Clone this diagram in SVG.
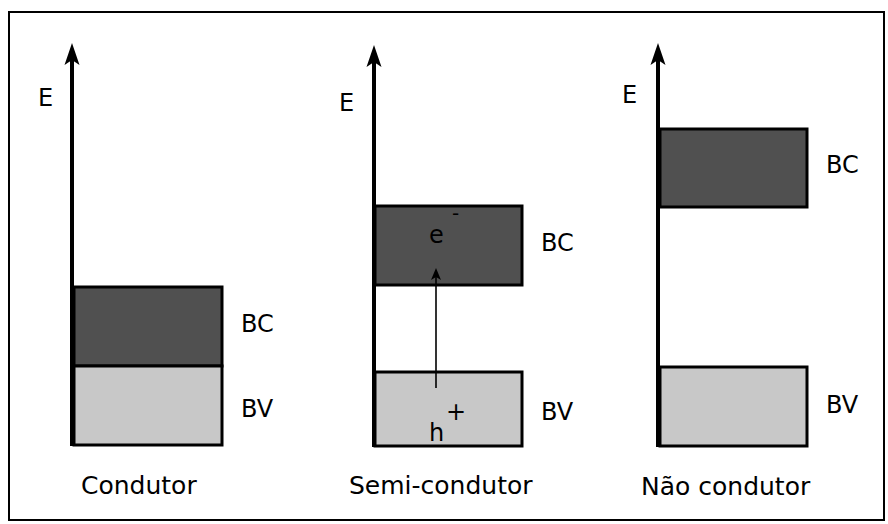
<svg xmlns="http://www.w3.org/2000/svg" width="888" height="524" viewBox="0 0 888 524">
<defs>
<style>
.axis{stroke:#000;stroke-width:4;fill:none}
.bc{fill:#505050;stroke:#000;stroke-width:3}
.bv{fill:#c8c8c8;stroke:#000;stroke-width:3}
.lbl{font-family:"DejaVu Sans",Verdana,sans-serif;font-size:24px;fill:#000}
.cap{font-family:"DejaVu Sans",Verdana,sans-serif;font-size:25px;fill:#000}
</style>
<marker id="big" markerUnits="userSpaceOnUse" orient="auto" markerWidth="30" markerHeight="20" viewBox="-12 -10 26 20" refX="0" refY="0" overflow="visible">
<path d="M12,0 L-10,-7.5 L-5,0 L-10,7.5 Z" fill="#000"/>
</marker>
<marker id="small" markerUnits="userSpaceOnUse" orient="auto" markerWidth="16" markerHeight="12" viewBox="-8 -6 14 12" refX="0" refY="0" overflow="visible">
<path d="M4,0 L-8,-5 L-5,0 L-8,5 Z" fill="#000"/>
</marker>
</defs>
<rect x="0" y="0" width="888" height="524" fill="#fff"/>
<rect x="9" y="12" width="875" height="508" fill="none" stroke="#000" stroke-width="2"/>

<g id="condutor">
<rect class="bc" x="74" y="287" width="148" height="79"/>
<rect class="bv" x="74" y="366" width="148" height="79"/>
<text class="lbl" x="38" y="106">E</text>
<text class="lbl" x="241" y="332">BC</text>
<text class="lbl" x="241" y="417">BV</text>
<text class="cap" x="81" y="494">Condutor</text>
</g>

<g id="semicondutor">
<rect class="bc" x="375" y="206" width="147" height="79"/>
<rect class="bv" x="375" y="372" width="147" height="74"/>
<text class="lbl" x="339" y="111">E</text>
<text class="lbl" x="541" y="251">BC</text>
<text class="lbl" x="541" y="420">BV</text>
<text class="lbl" x="429" y="243">e</text>
<text class="lbl" x="452" y="220" style="font-size:20px">-</text>
<text class="lbl" x="429" y="441">h</text>
<text class="lbl" x="456" y="420" text-anchor="middle">+</text>
<text class="cap" x="349" y="494">Semi-condutor</text>
</g>

<g id="naocondutor">
<rect class="bc" x="660" y="129" width="147" height="78"/>
<rect class="bv" x="660" y="367" width="147" height="79"/>
<text class="lbl" x="622" y="103">E</text>
<text class="lbl" x="826" y="173">BC</text>
<text class="lbl" x="826" y="413">BV</text>
<text class="cap" x="641" y="495">Não condutor</text>
</g>

<g id="connectors">
<line class="axis" x1="72" y1="446" x2="72" y2="55" marker-end="url(#big)"/>
<line class="axis" x1="374" y1="447" x2="374" y2="57" marker-end="url(#big)"/>
<line class="axis" x1="658" y1="447" x2="658" y2="55" marker-end="url(#big)"/>
<line x1="436" y1="388" x2="436" y2="272" stroke="#000" stroke-width="1.6" marker-end="url(#small)"/>
</g>
</svg>
